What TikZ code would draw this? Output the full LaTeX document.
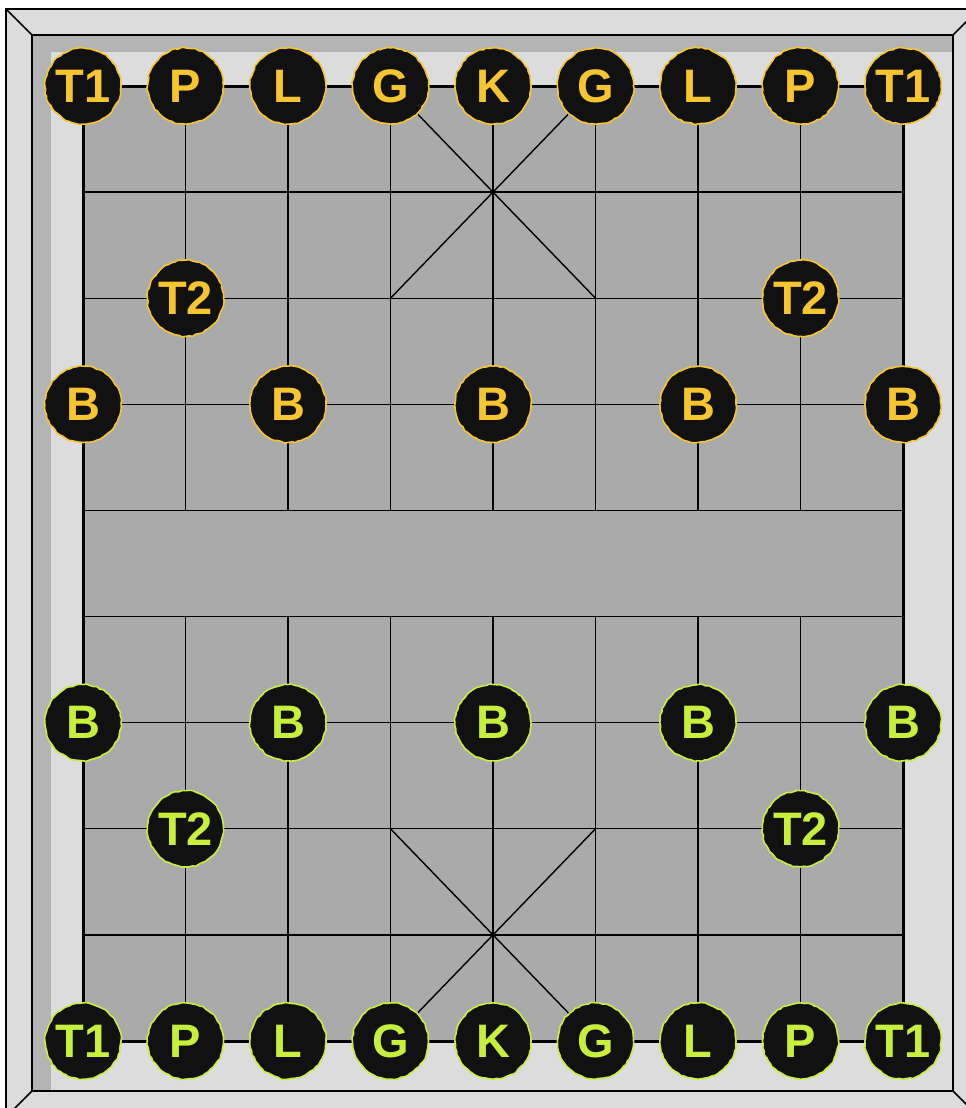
\documentclass[tikz,border=0pt]{standalone}
\usepackage{fontspec}
\setmainfont{Liberation Sans}
\usetikzlibrary{decorations.pathmorphing}
\definecolor{bevel}{HTML}{DCDCDC}
\definecolor{bandgray}{HTML}{B4B4B4}
\definecolor{boardgray}{HTML}{AAAAAA}
\definecolor{piecefill}{HTML}{111111}
\definecolor{gold}{HTML}{F7C530}
\definecolor{lime}{HTML}{C6F03C}
\begin{document}
\pgfmathsetseed{7}
\begin{tikzpicture}[x=1pt,y=-1pt,
  piece/.style={circle, minimum size=76pt, inner sep=0pt, fill=piecefill, draw=#1,
    line width=1.6pt, text=#1, font=\bfseries\fontsize{47}{47}\selectfont,
    decorate, decoration={random steps, segment length=3.5pt, amplitude=0.7pt}},
  gridline/.style={line width=1.4pt, black},
  boardedge/.style={line width=3pt, black},
  frameedge/.style={line width=1.5pt, black}]
\useasboundingbox (0,0) rectangle (966,1108);
\begin{scope}
  \clip (0,0) rectangle (966,1108);
  \draw[frameedge, fill=bevel] (6,9) rectangle (979,1117);
  \draw[frameedge] (6,9) -- (32,35) (953,35) -- (979,9) (32,1091) -- (6,1117) (953,1091) -- (979,1117);
\end{scope}
\fill[bandgray] (32,35) rectangle (953,1091);
\fill[bevel] (51,52) rectangle (953,1091);
\draw[frameedge] (32,35) rectangle (953,1091);
\begin{scope}[shift={(83,86)}, x=102.5pt, y=-106.111pt]
  \fill[boardgray] (0,0) rectangle (8,9);
  \foreach \j in {1,...,8} \draw[gridline] (0,\j) -- (8,\j);
  \foreach \i in {1,...,7} {\draw[gridline] (\i,0) -- (\i,4); \draw[gridline] (\i,5) -- (\i,9);}
  \draw[gridline] (3,0) -- (5,2) (5,0) -- (3,2) (3,7) -- (5,9) (5,7) -- (3,9);
  \draw[boardedge] (0,0) rectangle (8,9);
  \foreach \lab [count=\i from 0] in {T1,P,L,G,K,G,L,P,T1} {
    \node[piece=gold] (top\i) at (\i,0) {\lab};
    \node[piece=lime] (bot\i) at (\i,9) {\lab};
  }
  \foreach \i in {1,7} {
    \node[piece=gold] (topc\i) at (\i,2) {T2};
    \node[piece=lime] (botc\i) at (\i,7) {T2};
  }
  \foreach \i in {0,2,4,6,8} {
    \node[piece=gold] (tops\i) at (\i,3) {B};
    \node[piece=lime] (bots\i) at (\i,6) {B};
  }
\end{scope}
\end{tikzpicture}
\end{document}
